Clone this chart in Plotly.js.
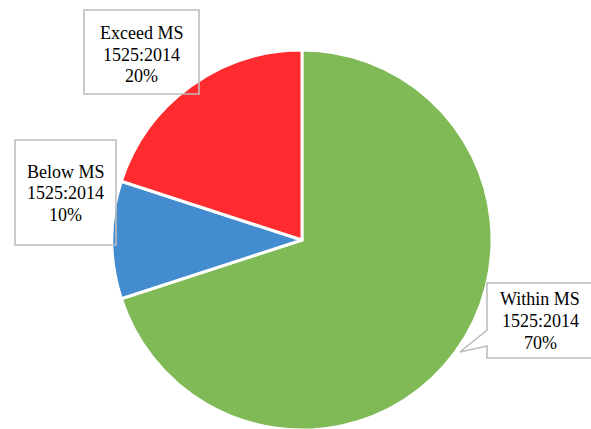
<!DOCTYPE html>
<html>
<head>
<meta charset="utf-8">
<script src="https://cdn.plot.ly/plotly-3.0.1.min.js"></script>
<style>
html,body{margin:0;padding:0;overflow:hidden;background:#fff;}
#chart{width:591px;height:432px;}
</style>
</head>
<body>
<div id="chart"></div>
<script>
// Data
var categoryNames = ['Within MS', 'Below MS', 'Exceed MS'];
var standardLabel = '1525:2014';
var shareValues = [70, 10, 20];
var sliceColors = ['#7FBA56', '#448CD0', '#FF2B2E'];

var W = 591, H = 432;
function px(x){ return x / W; }
function py(y){ return (H - y) / H; }

// label box layout (pixel positions), one per category
var boxes = [
  {cx: 540, lines: [305, 327, 349]},   // Within
  {cx: 65.5, lines: [178, 199.5, 221]}, // Below
  {cx: 141.5, lines: [39, 60.5, 82]}    // Exceed
];

var total = shareValues.reduce(function(a,b){return a+b;},0);
var annotations = [];
var fontCfg = {family: '"Liberation Serif", "Times New Roman", serif', size: 18, color: '#000'};
for (var i = 0; i < categoryNames.length; i++) {
  var texts = [categoryNames[i], standardLabel, Math.round(shareValues[i] / total * 100) + '%'];
  for (var j = 0; j < 3; j++) {
    annotations.push({
      text: texts[j], showarrow: false, xref: 'paper', yref: 'paper',
      x: px(boxes[i].cx), y: py(boxes[i].lines[j] - 6),
      xanchor: 'center', yanchor: 'middle', font: fontCfg
    });
  }
}

var border = {color: '#BDBDBD', width: 1.6};
function rectShape(x0, y0, x1, y1){
  return {type:'rect', xref:'paper', yref:'paper', x0:px(x0), x1:px(x1), y0:py(y1), y1:py(y0), line:border, fillcolor:'rgba(255,255,255,0)', layer:'above'};
}
function pathShape(pts){
  var d = 'M' + pts.map(function(p){ return px(p[0]) + ',' + py(p[1]); }).join(' L') + ' Z';
  return {type:'path', xref:'paper', yref:'paper', path:d, line:border, fillcolor:'#FFFFFF', layer:'above'};
}

var shapes = [
  rectShape(84, 10, 199, 94),
  rectShape(15, 140, 116, 245),
  pathShape([[487,283],[600,283],[600,358],[487,358],[487,346],[460,352],[487,330]])
];

var trace = {
  type: 'pie',
  values: shareValues,
  labels: categoryNames,
  marker: {colors: sliceColors, line: {color: '#FFFFFF', width: 3}},
  sort: false,
  direction: 'clockwise',
  rotation: 0,
  textinfo: 'none',
  hoverinfo: 'none',
  domain: {x: [px(302 - 190), px(302 + 190)], y: [py(240 + 190), py(240 - 190)]}
};

var layout = {
  width: W, height: H,
  margin: {l:0, r:0, t:0, b:0},
  paper_bgcolor: '#FFFFFF',
  showlegend: false,
  shapes: shapes,
  annotations: annotations
};

Plotly.newPlot('chart', [trace], layout, {staticPlot: true, displayModeBar: false});
</script>
</body>
</html>
